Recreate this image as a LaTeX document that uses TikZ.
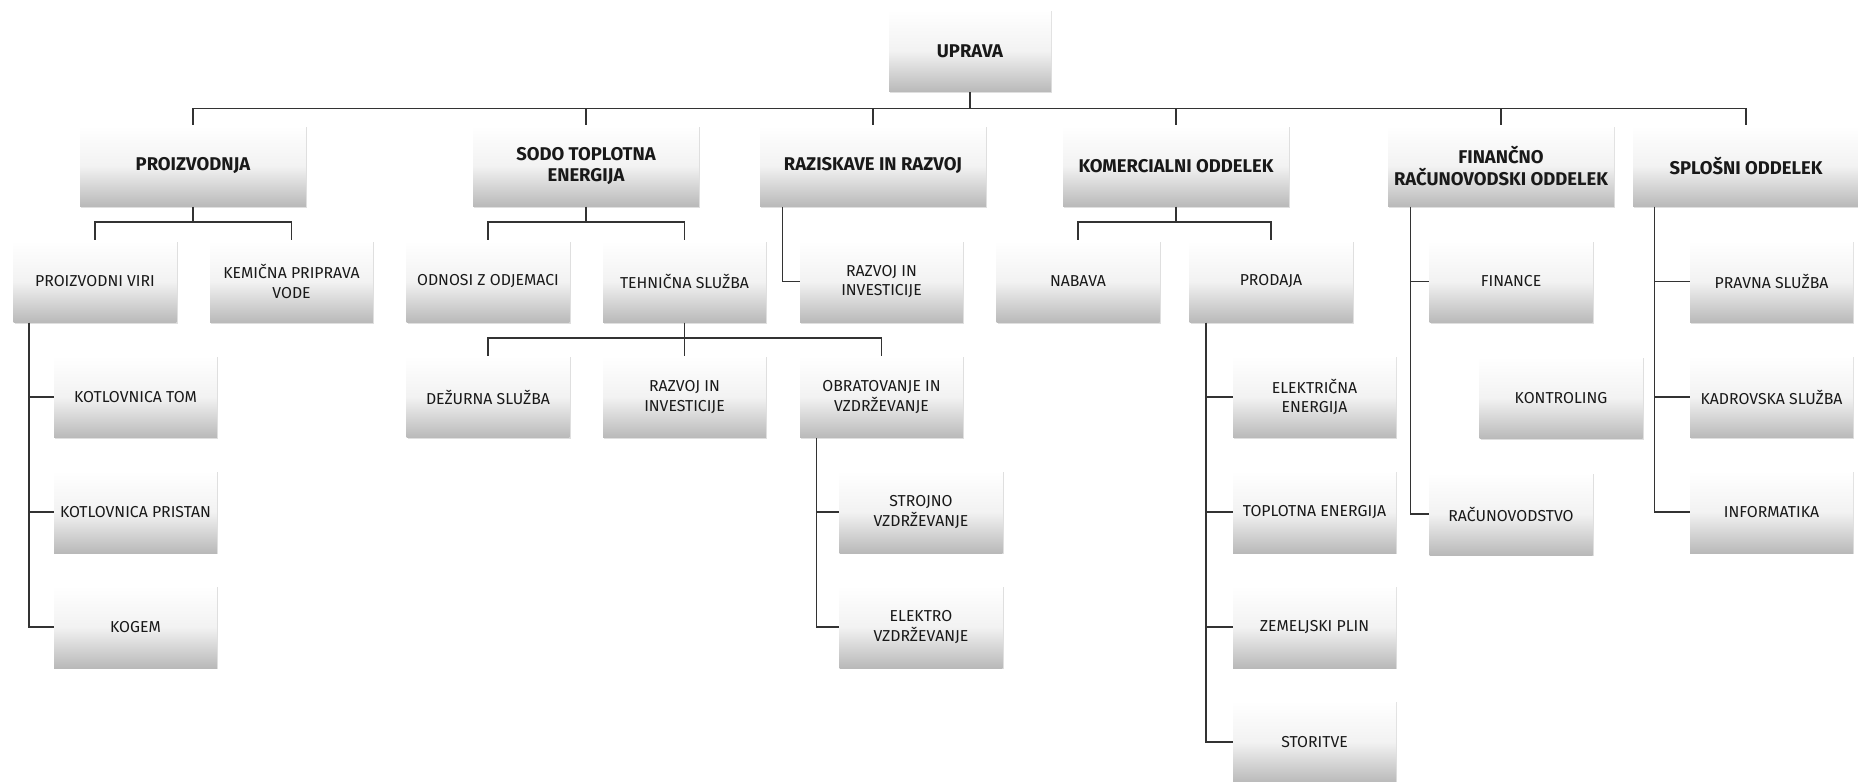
\documentclass[tikz,border=0pt]{standalone}
\usepackage{fontspec}
\setsansfont{Fira Sans}
\usetikzlibrary{shadows}

\begin{document}
\begin{tikzpicture}[
    x=0.02cm, y=-0.02cm,
    % Box and line styles
    boxbg/.style={top color=white, bottom color=gray!55, middle color=gray!10, drop shadow={shadow xshift=0.8pt, shadow yshift=-0.8pt, opacity=0.25}, align=center, text=black!90, inner sep=2pt},
    topbox/.style={boxbg, minimum width=4.52cm, minimum height=1.62cm, font=\sffamily\bfseries\fontsize{10.5}{12.5}\selectfont},
    unitbox/.style={boxbg, minimum width=3.26cm, minimum height=1.64cm, font=\sffamily\fontsize{9}{11}\selectfont},
    orgline/.style={draw=black!80, line width=0.9pt}
]
\useasboundingbox (0,0) rectangle (1858,781);

% 1. Management
\node[topbox, minimum width=3.24cm, minimum height=1.64cm] (uprava) at (970,51) {UPRAVA};

% 2. Departments
\node[topbox] (proizv)  at (193,166)  {PROIZVODNJA};
\node[topbox] (sodo)    at (586,166)  {SODO TOPLOTNA\\ENERGIJA};
\node[topbox] (razisk)  at (873,166)  {RAZISKAVE IN RAZVOJ};
\node[topbox] (komerc)  at (1176,166) {KOMERCIALNI ODDELEK};
\node[topbox] (financ)  at (1501,166) {FINANČNO\\RAČUNOVODSKI ODDELEK};
\node[topbox] (splosni) at (1746,166) {SPLOŠNI ODDELEK};

% 3. Second level units
\node[unitbox] (virI)    at (95,281.5)   {PROIZVODNI VIRI};
\node[unitbox] (kemic)   at (291.5,281.5) {KEMIČNA PRIPRAVA\\VODE};
\node[unitbox] (odnosi)  at (488,281.5)  {ODNOSI Z ODJEMACI};
\node[unitbox] (tehn)    at (684.5,281.5) {TEHNIČNA SLUŽBA};
\node[unitbox] (razvojA) at (881.5,281.5) {RAZVOJ IN\\INVESTICIJE};
\node[unitbox] (nabava)  at (1078,281.5) {NABAVA};
\node[unitbox] (prodaja) at (1271,281.5) {PRODAJA};
\node[unitbox] (finance) at (1511,281.5) {FINANCE};
\node[unitbox] (pravna)  at (1771.5,281.5) {PRAVNA SLUŽBA};

% 4. Third level units
\node[unitbox] (kotlTom) at (135.5,397) {KOTLOVNICA TOM};
\node[unitbox] (dezurna) at (488,397)   {DEŽURNA SLUŽBA};
\node[unitbox] (razvojB) at (684.5,397) {RAZVOJ IN\\INVESTICIJE};
\node[unitbox] (obrat)   at (881.5,397) {OBRATOVANJE IN\\VZDRŽEVANJE};
\node[unitbox] (elektr)  at (1314.5,397) {ELEKTRIČNA\\ENERGIJA};
\node[unitbox] (kontrol) at (1561,398)  {KONTROLING};
\node[unitbox] (kadrov)  at (1771.5,397) {KADROVSKA SLUŽBA};

% 5. Lower units
\node[unitbox] (kotlPri)  at (135.5,512) {KOTLOVNICA PRISTAN};
\node[unitbox] (strojno)  at (921,512)   {STROJNO\\VZDRŽEVANJE};
\node[unitbox] (toplot)   at (1314.5,512) {TOPLOTNA ENERGIJA};
\node[unitbox] (racun)    at (1511,514)  {RAČUNOVODSTVO};
\node[unitbox] (inform)   at (1771.5,512) {INFORMATIKA};
\node[unitbox] (kogem)    at (135.5,627) {KOGEM};
\node[unitbox] (elektro)  at (921,627)   {ELEKTRO\\VZDRŽEVANJE};
\node[unitbox] (zemelj)   at (1314.5,627) {ZEMELJSKI PLIN};
\node[unitbox] (storitve) at (1314.5,742) {STORITVE};

% 6. Bus connectors (down, across, down)
\foreach \t in {proizv,sodo,razisk,komerc,financ,splosni}
  \draw[orgline] (uprava.south) -- ++(0,16) -| (\t.north);
\foreach \t in {virI,kemic}
  \draw[orgline] (proizv.south) -- ++(0,15) -| (\t.north);
\foreach \t in {odnosi,tehn}
  \draw[orgline] (sodo.south) -- ++(0,15) -| (\t.north);
\foreach \t in {nabava,prodaja}
  \draw[orgline] (komerc.south) -- ++(0,15) -| (\t.north);
\foreach \t in {dezurna,razvojB,obrat}
  \draw[orgline] (tehn.south) -- ++(0,15) -| (\t.north);

% 7. Side trunk connectors
\foreach \t in {kotlTom,kotlPri,kogem}
  \draw[orgline] ([xshift=0.32cm]virI.south west) |- (\t.west);
\draw[orgline] ([xshift=0.46cm]razisk.south west) |- (razvojA.west);
\foreach \t in {strojno,elektro}
  \draw[orgline] ([xshift=0.34cm]obrat.south west) |- (\t.west);
\foreach \t in {elektr,toplot,zemelj,storitve}
  \draw[orgline] ([xshift=0.34cm]prodaja.south west) |- (\t.west);
\foreach \t in {finance,racun}
  \draw[orgline] ([xshift=0.46cm]financ.south west) |- (\t.west);
\foreach \t in {pravna,kadrov,inform}
  \draw[orgline] ([xshift=0.44cm]splosni.south west) |- (\t.west);

\end{tikzpicture}
\end{document}
